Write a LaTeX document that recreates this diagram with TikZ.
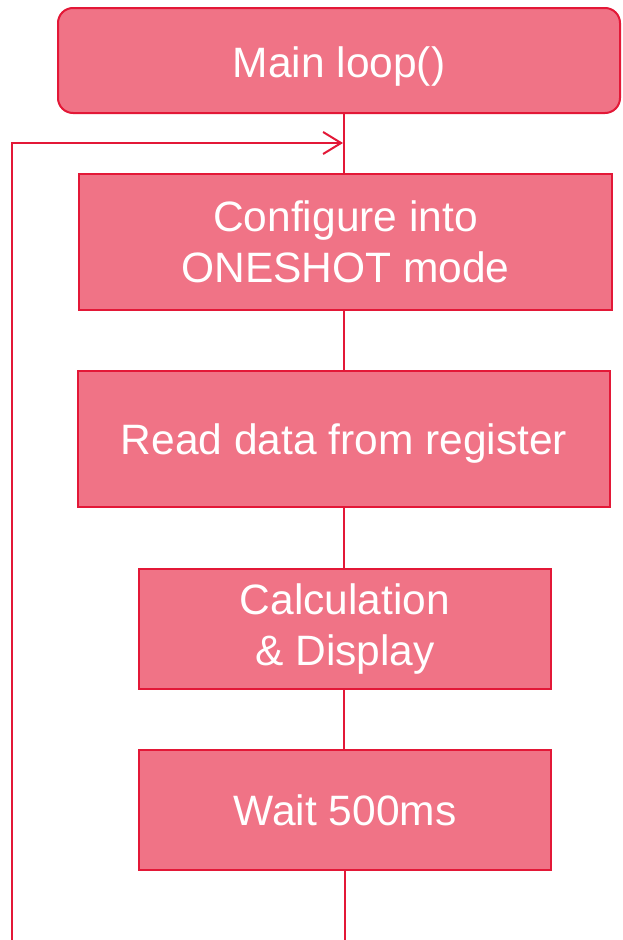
\documentclass[tikz,border=0pt]{standalone}
\usepackage{fontspec}
\setmainfont{Liberation Sans}
\usetikzlibrary{arrows.meta}
\definecolor{boxfill}{HTML}{F07386}
\definecolor{boxline}{HTML}{E31837}
\begin{document}
\begin{tikzpicture}[x=1pt,y=-1pt,
  stepbox/.style={draw=boxline, fill=boxfill, line width=2pt, text=white,
    font=\fontsize{42.5}{51}\selectfont, align=center, inner sep=0pt, anchor=north west},
  conn/.style={draw=boxline, line width=2pt}]
\useasboundingbox (0,0) rectangle (623,940);
\node[stepbox, rounded corners=15pt, minimum width=562pt, minimum height=105pt, text height=42pt, text depth=9pt] (main) at (57,7) {Main loop()};
\node[stepbox, minimum width=533pt, minimum height=136pt] (cfg) at (78,173) {Configure into\\ ONESHOT mode};
\node[stepbox, minimum width=532pt, minimum height=136pt, text height=39pt, text depth=9pt] (read) at (77,370) {Read data from register};
\node[stepbox, minimum width=412pt, minimum height=120pt] (calc) at (138,568) {Calculation\\ \& Display};
\node[stepbox, minimum width=412pt, minimum height=120pt] (wait) at (138,749) {Wait 500ms};
\coordinate (bot) at (345,941);
\coordinate (lb) at (12,941);
\coordinate (tip) at (343,143);
\draw[conn] (main.south -| 344,0) -- (cfg.north -| 344,0);
\draw[conn] (cfg.south -| 344,0) -- (read.north -| 344,0);
\draw[conn] (read.south -| 344,0) -- (calc.north -| 344,0);
\draw[conn] (calc.south -| 344,0) -- (wait.north -| 344,0);
\draw[conn] (wait.south -| 345,0) -- (bot);
\draw[conn, -{Straight Barb[length=18pt,width=22pt,line width=2pt]}] (lb) |- (tip);
\end{tikzpicture}
\end{document}
